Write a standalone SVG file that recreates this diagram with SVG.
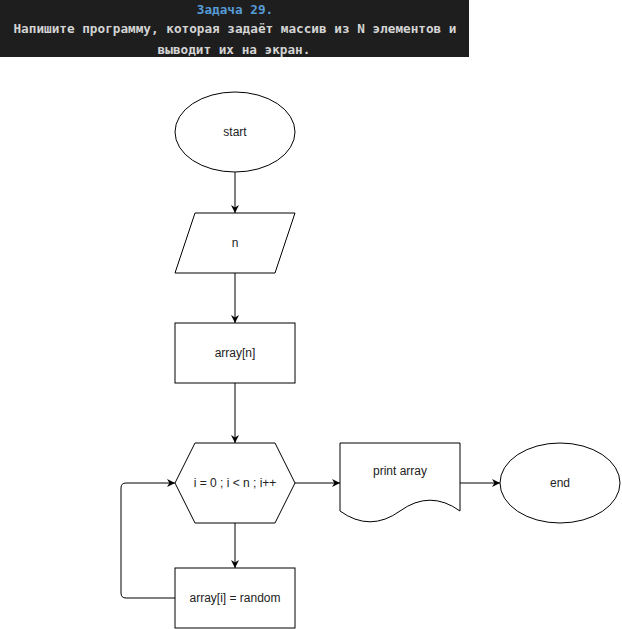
<svg xmlns="http://www.w3.org/2000/svg" width="622" height="629" viewBox="0 0 622 629">
<style>
.hdr{font-family:"DejaVu Sans Mono","Liberation Mono",monospace;font-size:12.7px;font-weight:bold;text-anchor:middle}
.shape{fill:#fff;stroke:#000;stroke-width:1}
.lbl{font-family:"Liberation Sans",Arial,sans-serif;font-size:12px;fill:#222;text-anchor:middle;dominant-baseline:central}
.edge{fill:none;stroke:#000;stroke-width:1}
</style>
<defs>
<marker id="arr" viewBox="0 0 10 10" refX="10" refY="5" markerWidth="8" markerHeight="8" markerUnits="userSpaceOnUse" orient="auto">
<path d="M0,0 L10,5 L0,10 L3,5 Z" fill="#000"/>
</marker>
</defs>
<rect width="622" height="629" fill="#fff"/>
<g id="header">
<rect x="0" y="0" width="469" height="57" fill="#1e1e1e"/>
<text class="hdr" x="235" y="14" fill="#569cd6">Задача 29.</text>
<text class="hdr" x="235" y="33" fill="#d4d4d4">Напишите программу, которая задаёт массив из N элементов и</text>
<text class="hdr" x="234" y="54" fill="#d4d4d4">выводит их на экран.</text>
</g>
<g id="connectors">
<path class="edge" d="M235,172 V213" marker-end="url(#arr)"/>
<path class="edge" d="M235,273 V323" marker-end="url(#arr)"/>
<path class="edge" d="M235,383 V443" marker-end="url(#arr)"/>
<path class="edge" d="M295,483 H340" marker-end="url(#arr)"/>
<path class="edge" d="M460,483 H500" marker-end="url(#arr)"/>
<path class="edge" d="M235,523 V568" marker-end="url(#arr)"/>
<path class="edge" d="M175,598 H126 Q121,598 121,593 V488 Q121,483 126,483 H175" marker-end="url(#arr)"/>
</g>
<g id="start">
<ellipse class="shape" cx="235" cy="132" rx="60" ry="40"/>
<text class="lbl" x="235" y="132">start</text>
</g>
<g id="input-n">
<polygon class="shape" points="195,213 295,213 275,273 175,273"/>
<text class="lbl" x="235" y="243">n</text>
</g>
<g id="array-n">
<rect class="shape" x="175" y="323" width="120" height="60"/>
<text class="lbl" x="235" y="353">array[n]</text>
</g>
<g id="loop">
<polygon class="shape" points="195,443 275,443 295,483 275,523 195,523 175,483"/>
<text class="lbl" x="235" y="483">i = 0 ; i &lt; n ; i++</text>
</g>
<g id="print-array">
<path class="shape" d="M340,443 H460 V511 Q430,489.4 400,511 Q370,532.6 340,511 Z"/>
<text class="lbl" x="400" y="471">print array</text>
</g>
<g id="end">
<ellipse class="shape" cx="560" cy="483" rx="60" ry="40"/>
<text class="lbl" x="560" y="483">end</text>
</g>
<g id="assign-random">
<rect class="shape" x="175" y="568" width="120" height="60"/>
<text class="lbl" x="235" y="598">array[i] = random</text>
</g>
</svg>
